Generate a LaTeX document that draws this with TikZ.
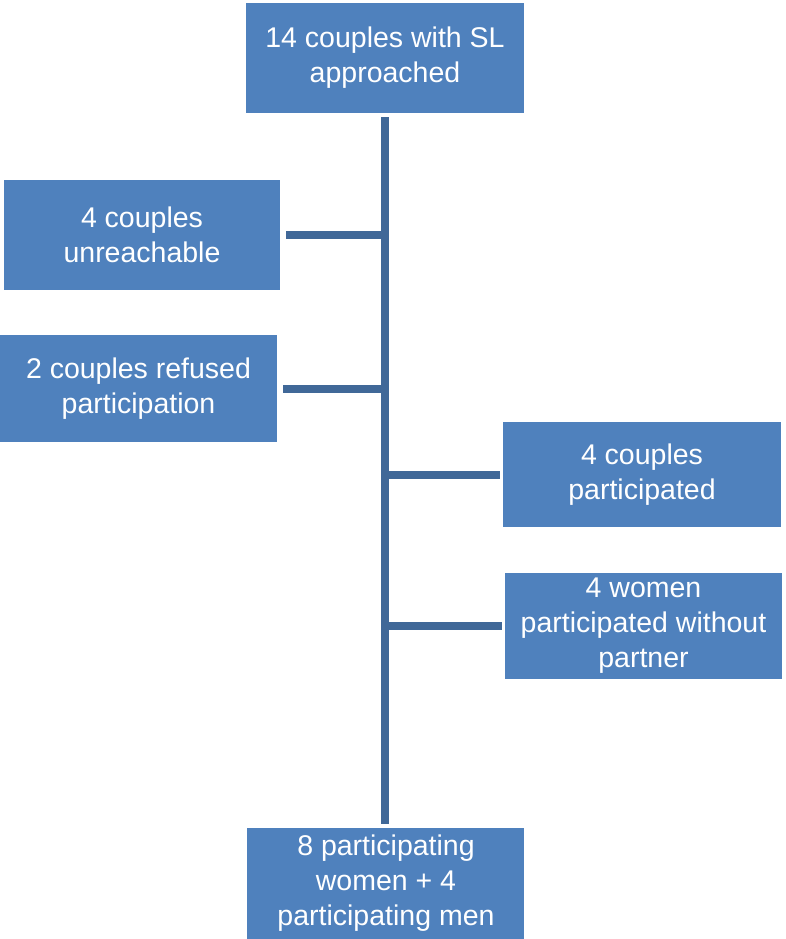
\documentclass[tikz,border=0pt]{standalone}
\usepackage{fontspec}
\setmainfont{Liberation Sans}
\definecolor{boxblue}{RGB}{79,129,189}
\definecolor{linkblue}{RGB}{64,104,152}
\begin{document}
\begin{tikzpicture}[x=1pt,y=-1pt,
  box/.style={fill=boxblue, text=white, align=center, inner sep=0pt,
              font=\fontsize{28.5}{35}\selectfont},
  conn/.style={draw=linkblue, line width=8pt}]
\useasboundingbox (0,0) rectangle (786,939);
\node[box, minimum width=278pt, minimum height=110pt] (top) at (385,58) {14 couples with SL\\approached};
\node[box, minimum width=276pt, minimum height=110pt] (unr) at (142,235) {4 couples\\unreachable};
\node[box, minimum width=277pt, minimum height=107pt] (ref) at (138.5,388.5) {2 couples refused\\participation};
\node[box, minimum width=278pt, minimum height=105pt] (cp) at (642,474.5) {4 couples\\participated};
\node[box, minimum width=277pt, minimum height=106pt] (wom) at (643.5,626) {4 women\\participated without\\partner};
\node[box, minimum width=277pt, minimum height=130pt, anchor=north] (bot) at (385,828) {};
\node[box, fill=none] (botlabel) at (386,883) {8 participating\\women + 4\\participating men};
\draw[conn, shorten <=4pt, shorten >=4pt] (top.south) -- (bot.north);
\draw[conn, shorten <=6pt] (unr.east) -- (unr.east -| top.south);
\draw[conn, shorten <=6pt] (ref.east) -- (ref.east -| top.south);
\draw[conn, shorten <=3pt] (cp.west) -- (cp.west -| top.south);
\draw[conn, shorten <=3pt] (wom.west) -- (wom.west -| top.south);
\end{tikzpicture}
\end{document}
